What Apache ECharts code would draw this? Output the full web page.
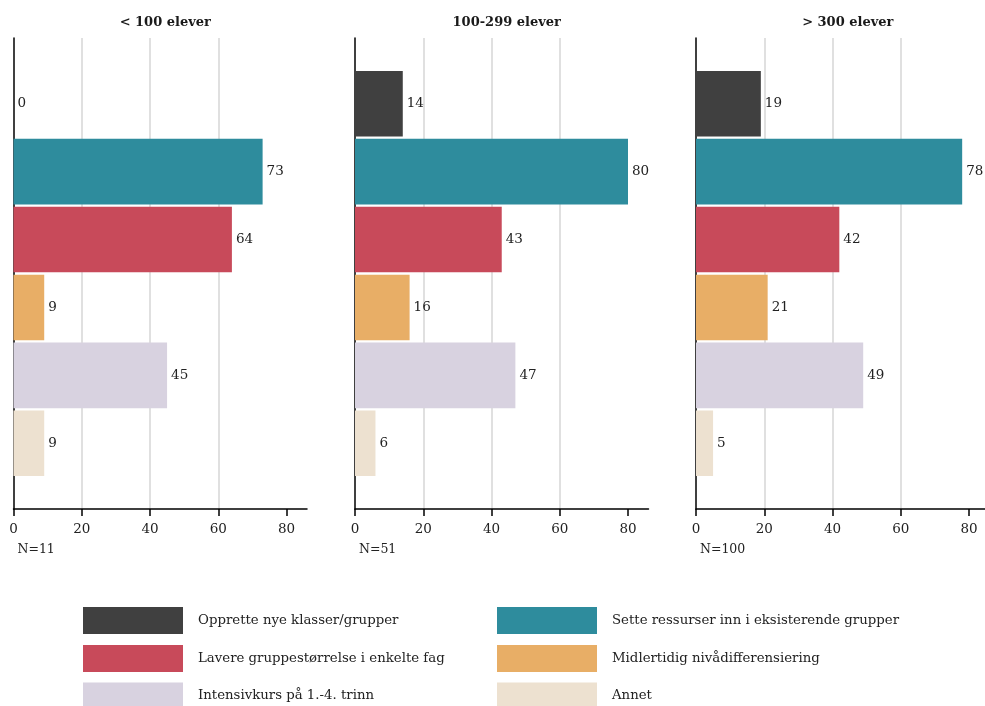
<!DOCTYPE html>
<html>
<head>
<meta charset="utf-8">
<script src="https://cdn.jsdelivr.net/npm/echarts@6/dist/echarts.min.js"></script>
<style>
html,body{margin:0;padding:0;background:#fff;}
#chart{width:985px;height:706px;}
</style>
</head>
<body>
<div id="chart"></div>
<script>
// Data
const panelTitles = ['< 100 elever', '100-299 elever', '> 300 elever'];
const panelN = ['N=11', 'N=51', 'N=100'];
const seriesNames = [
  'Opprette nye klasser/grupper',
  'Sette ressurser inn i eksisterende grupper',
  'Lavere gruppestørrelse i enkelte fag',
  'Midlertidig nivådifferensiering',
  'Intensivkurs på 1.-4. trinn',
  'Annet'
];
const colors = ['#404040', '#2E8C9D', '#C84A5A', '#E8AE66', '#D8D2E0', '#EDE1D0'];
// values per series, one per panel
const valOpprette = [0, 14, 19];
const valSette = [73, 80, 78];
const valLavere = [64, 43, 42];
const valMidlertidig = [9, 16, 21];
const valIntensiv = [45, 47, 49];
const valAnnet = [9, 6, 5];
const seriesValues = [valOpprette, valSette, valLavere, valMidlertidig, valIntensiv, valAnnet];
const xTicks = [0, 20, 40, 60, 80];

const FONT = '"DejaVu Serif", "Liberation Serif", serif';
const chart = echarts.init(document.getElementById('chart'), null, {renderer: 'canvas'});

const pxPerUnit = 273 / 80;
const gridLefts = [13.5, 355, 696];
const gridWidths = [293.5, 293.5, 289];
const grids = [], xAxes = [], yAxes = [], series = [], titles = [], graphics = [];

for (let p = 0; p < 3; p++) {
  grids.push({left: gridLefts[p], width: gridWidths[p], top: 38, height: 471, containLabel: false});
  titles.push({
    text: panelTitles[p], left: gridLefts[p] + 293.5 / 2, top: 11, textAlign: 'center',
    textStyle: {fontFamily: FONT, fontWeight: 'bold', fontSize: 13, color: '#1a1a1a'}
  });
  xAxes.push({
    type: 'value', gridIndex: p, min: 0, max: gridWidths[p] / pxPerUnit, interval: 20,
    axisLine: {show: true, lineStyle: {color: '#000', width: 1.5}},
    axisTick: {show: true, length: 7, customValues: xTicks, lineStyle: {color: '#000', width: 1.5}},
    axisLabel: {fontFamily: FONT, fontSize: 13.5, color: '#222', margin: 13, customValues: xTicks},
    splitLine: {show: true, showMaxLine: false, showMinLine: false, lineStyle: {color: '#e0e0e0', width: 2}}
  });
  yAxes.push({
    type: 'category', gridIndex: p, data: [''], inverse: true,
    axisLine: {show: true, onZero: false, lineStyle: {color: '#000', width: 1.5}},
    axisTick: {show: false}, axisLabel: {show: false}, splitLine: {show: false}
  });
  for (let s = 0; s < 6; s++) {
    series.push({
      type: 'bar', name: seriesNames[s], xAxisIndex: p, yAxisIndex: p,
      data: [seriesValues[s][p]],
      itemStyle: {color: colors[s]},
      barCategoryGap: '14%', barGap: '3.5%',
      label: {show: true, position: 'right', distance: 4, fontFamily: FONT, fontSize: 13.5, color: '#222'},
      animation: false
    });
  }
  graphics.push({
    type: 'text', left: gridLefts[p] + 4, top: 543,
    style: {text: panelN[p], font: '12.5px ' + FONT, fill: '#222'}
  });
}

// legend: 2 columns x 3 rows
const legendCols = [83, 497];
const legendRows = [607, 645, 682.5];
const legends = seriesNames.map((name, i) => ({
  left: legendCols[i % 2], top: legendRows[Math.floor(i / 2)],
  itemWidth: 100, itemHeight: 27, padding: 0, icon: 'rect',
  data: [name],
  textStyle: {fontFamily: FONT, fontSize: 13.3, color: '#222', padding: [0, 0, 0, 10]}
}));

chart.setOption({
  animation: false,
  color: colors,
  title: titles,
  grid: grids,
  xAxis: xAxes,
  yAxis: yAxes,
  series: series,
  graphic: graphics,
  legend: legends
});
</script>
</body>
</html>
